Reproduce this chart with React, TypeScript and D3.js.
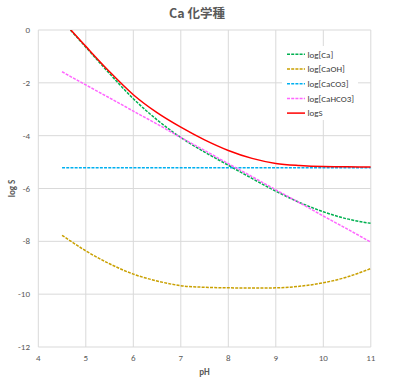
import React from "react";
import * as d3 from "d3";

const pH = [4.5, 5, 5.5, 6, 6.5, 7, 7.5, 8, 8.5, 9, 9.5, 10, 10.5, 11];
const logCa = [0.35, -0.65, -1.65, -2.6, -3.4, -4.07, -4.62, -5.12, -5.62, -6.1, -6.53, -6.88, -7.15, -7.32];
const logCaOH = [-7.77, -8.36, -8.85, -9.24, -9.5, -9.68, -9.74, -9.76, -9.77, -9.76, -9.7, -9.57, -9.35, -9.03];
const logCaCO3 = [-5.21, -5.21, -5.21, -5.21, -5.21, -5.21, -5.21, -5.21, -5.21, -5.21, -5.21, -5.21, -5.21, -5.21];
const logCaHCO3 = [-1.58, -2.08, -2.57, -3.07, -3.56, -4.07, -4.56, -5.06, -5.55, -6.05, -6.54, -7.04, -7.53, -8.03];
const logS = [0.37, -0.62, -1.58, -2.45, -3.13, -3.68, -4.16, -4.56, -4.86, -5.05, -5.13, -5.17, -5.18, -5.19];

const xTicks = [4, 5, 6, 7, 8, 9, 10, 11];
const yTicks = [0, -2, -4, -6, -8, -10, -12];

const series = [
  { name: "log[Ca]", values: logCa, color: "#00B050", dash: "3,1.2" },
  { name: "log[CaOH]", values: logCaOH, color: "#C9A000", dash: "3,1.2" },
  { name: "log[CaCO3]", values: logCaCO3, color: "#00B0F0", dash: "3,1.2" },
  { name: "log[CaHCO3]", values: logCaHCO3, color: "#FF66FF", dash: "3,1.2" },
  { name: "logS", values: logS, color: "#FF0000", dash: "" },
];

export default function App() {
  const W = 393, H = 380;
  const x = d3.scaleLinear().domain([4, 11]).range([38.3, 370.8]);
  const y = d3.scaleLinear().domain([0, -12]).range([30, 347]);
  const font = "Calibri, Carlito, 'Liberation Sans', sans-serif";
  const txt = "#595959";
  const grid = "#d9d9d9";
  const line = (vals: number[]) =>
    d3.line<number>()
      .x((_, i) => x(pH[i]))
      .y((v) => y(v))
      .curve(d3.curveMonotoneX)(vals) || "";
  const lx = 287, ly0 = 54.3, ldy = 14.7;
  return (
    <svg width={W} height={H} style={{ position: "absolute", left: 0, top: 0, background: "#fff" }}>
      <defs>
        <clipPath id="plot">
          <rect x={x(4)} y={y(0)} width={x(11) - x(4)} height={y(-12) - y(0)} />
        </clipPath>
      </defs>
      <rect x={0} y={0} width={W} height={H} fill="#fff" />
      <text x={197} y={18} textAnchor="middle" fontSize={12.5} fontWeight="bold" fill={txt}
        fontFamily="'Noto Sans CJK JP', sans-serif">Ca 化学種</text>
      {xTicks.map((t) => (
        <line key={"gx" + t} x1={x(t)} x2={x(t)} y1={y(0)} y2={y(-12)} stroke={grid} strokeWidth={1} />
      ))}
      {yTicks.map((t) => (
        <line key={"gy" + t} x1={x(4)} x2={x(11)} y1={y(t)} y2={y(t)} stroke={grid} strokeWidth={1} />
      ))}
      {xTicks.map((t) => (
        <text key={"tx" + t} x={x(t)} y={361} textAnchor="middle" fontSize={9} fill={txt} fontFamily={font}>{t}</text>
      ))}
      {yTicks.map((t) => (
        <text key={"ty" + t} x={30} y={y(t) + 3} textAnchor="end" fontSize={9} fill={txt} fontFamily={font}>{t}</text>
      ))}
      <text x={204.5} y={375} textAnchor="middle" fontSize={9} fontWeight="bold" fill={txt} fontFamily={font}>pH</text>
      <text transform={`translate(15,188.5) rotate(-90)`} textAnchor="middle" fontSize={9} fontWeight="bold" fill={txt} fontFamily={font}>log S</text>
      <rect x={282} y={46} width={76} height={74} fill="#fff" />
      <g clipPath="url(#plot)">
        {series.map((s) => (
          <path key={s.name} d={line(s.values)} fill="none" stroke={s.color} strokeWidth={1.5}
            strokeDasharray={s.dash || undefined} />
        ))}
      </g>
      {series.map((s, i) => (
        <g key={"lg" + s.name}>
          <line x1={lx} x2={305} y1={ly0 + i * ldy} y2={ly0 + i * ldy} stroke={s.color} strokeWidth={1.5}
            strokeDasharray={s.dash || undefined} />
          <text x={307.5} y={ly0 + i * ldy + 3.2} fontSize={9} fill="#404040" fontFamily={font}>{s.name}</text>
        </g>
      ))}
    </svg>
  );
}
